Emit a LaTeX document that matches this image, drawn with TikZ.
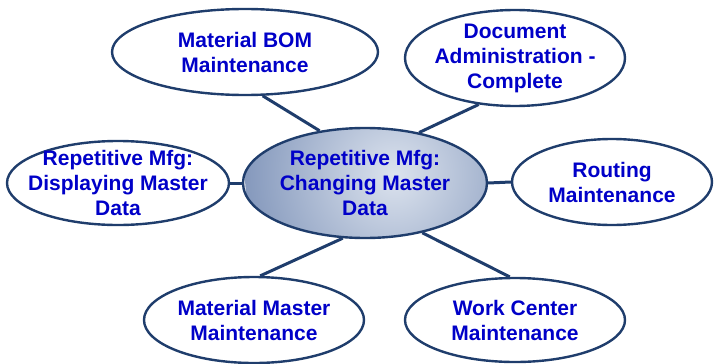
\documentclass[tikz,border=0pt]{standalone}
\usepackage{fontspec}
\setmainfont{Liberation Sans}
\usetikzlibrary{shapes.geometric}
\definecolor{navy}{HTML}{1F3D6C}
\definecolor{txtblue}{HTML}{0000C8}
\definecolor{clight}{HTML}{DCE3EE}
\definecolor{cdark}{HTML}{8498BC}
\tikzset{
  bubble/.style={ellipse, draw=navy, line width=2.4pt, fill=white, inner sep=-20pt,
    align=center, text=txtblue, font=\fontsize{21}{25}\selectfont\bfseries},
  hub/.style={bubble, fill=none,
    path picture={\fill[inner color=clight, outer color=cdark]
      ([xshift=30pt,yshift=8pt]path picture bounding box.center) circle (150pt);}},
  link/.style={draw=navy, line width=3pt}
}
\begin{document}
\begin{tikzpicture}[x=1pt,y=-1pt]
\useasboundingbox (0,0) rectangle (720,364);
\node[hub, minimum width=244pt, minimum height=110pt] (c) at (365,183) {Repetitive Mfg:\\Changing Master\\Data};
\node[bubble, minimum width=266pt, minimum height=86pt] (bom) at (245,52) {Material BOM\\Maintenance};
\node[bubble, minimum width=220pt, minimum height=96pt] (doc) at (515,58) {Document\\Administration -\\Complete};
\node[bubble, minimum width=222pt, minimum height=84pt] (disp) at (118,183) {Repetitive Mfg:\\Displaying Master\\Data};
\node[bubble, minimum width=200pt, minimum height=86pt] (rout) at (612,182) {Routing\\Maintenance};
\node[bubble, minimum width=220pt, minimum height=86pt] (mm) at (254,320) {Material Master\\Maintenance};
\node[bubble, minimum width=220pt, minimum height=84pt] (wc) at (515,320) {Work Center\\Maintenance};
\draw[link] (c.131) -- (bom.-68);
\draw[link] (c.43) -- (doc.-128);
\draw[link] (c.180) -- (disp.0);
\draw[link] (c.0) -- (rout.180);
\draw[link] (c.-112) -- (mm.82);
\draw[link] (c.-41) -- (wc.97);
\end{tikzpicture}
\end{document}
